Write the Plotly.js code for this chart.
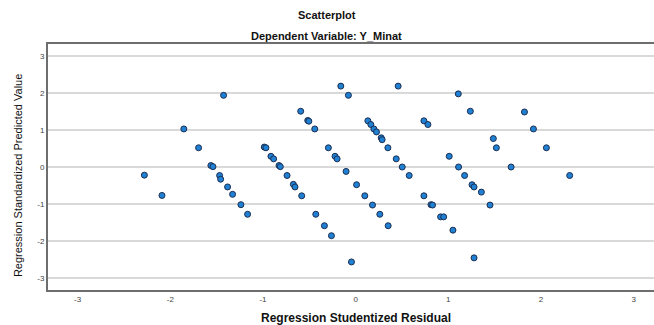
<!DOCTYPE html>
<html>
<head>
<meta charset="utf-8">
<script src="https://cdn.plot.ly/plotly-3.0.1.min.js"></script>
<style>html,body{margin:0;padding:0;background:#fff;}#chart{width:654px;height:325px;}</style>
</head>
<body>
<div id="chart"></div>
<script>
// Regression Studentized Residual (x) vs Regression Standardized Predicted Value (y)
const residual = [
  -2.28, -2.09, -1.854, -1.695, -1.562, -1.54, -1.468, -1.457, -1.382, -1.328,
  -1.238, -1.166, -1.425, -0.986, -0.968, -0.914, -0.885, -0.827, -0.813, -0.74,
  -0.672, -0.654, -0.582, -0.593, -0.517, -0.505, -0.441, -0.43, -0.337, -0.261,
  -0.294, -0.222, -0.2, -0.16, -0.078, -0.103, 0.01, 0.099, 0.182, 0.261,
  0.351, -0.045, 0.132, 0.164, 0.197, 0.225, 0.276, 0.286, 0.348, 0.438,
  0.503, 0.459, 0.578, 0.737, 0.813, 0.83, 0.917, 0.95, 0.737, 0.78,
  1.01, 1.05, 1.278, 1.111, 1.176, 1.256, 1.278, 1.357, 1.45, 1.678,
  2.31, 1.108, 1.238, 1.822, 1.919, 1.486, 1.519, 2.059
];
const predicted = [
  -0.22, -0.77, 1.03, 0.52, 0.04, 0.01, -0.23, -0.33, -0.54, -0.74,
  -1.02, -1.28, 1.94, 0.54, 0.52, 0.29, 0.22, 0.04, 0.01, -0.23,
  -0.47, -0.54, -0.78, 1.51, 1.26, 1.24, 1.03, -1.28, -1.59, -1.86,
  0.52, 0.29, 0.22, 2.19, 1.94, -0.12, -0.48, -0.78, -1.03, -1.28,
  -1.59, -2.57, 1.25, 1.15, 1.03, 0.95, 0.79, 0.74, 0.52, 0.22,
  0.0, 2.19, -0.23, -0.78, -1.02, -1.03, -1.35, -1.35, 1.25, 1.15,
  0.29, -1.71, -2.46, 0.0, -0.23, -0.48, -0.54, -0.68, -1.03, 0.0,
  -0.23, 1.98, 1.51, 1.49, 1.03, 0.77, 0.52, 0.52
];
const tickVals = [-3, -2, -1, 0, 1, 2, 3];
const tickText = ["-3", "-2", "-1", "0", "1", "2", "3"];

const trace = {
  type: 'scatter', mode: 'markers',
  x: residual, y: predicted,
  marker: {size: 6, color: '#1f80d4', line: {color: '#1c2e4f', width: 1}},
  hoverinfo: 'x+y'
};

const font = "'Liberation Sans', Arial, sans-serif";
const layout = {
  width: 654, height: 325,
  margin: {l: 48, r: 0, t: 44, b: 35},
  paper_bgcolor: '#fff', plot_bgcolor: '#fff',
  showlegend: false,
  font: {family: font, color: '#222'},
  xaxis: {
    range: [-3.32, 3.22], tickvals: tickVals, ticktext: tickText,
    showgrid: false, zeroline: false, showline: true, mirror: true,
    linecolor: '#6e6e6e', linewidth: 2, ticks: '',
    tickfont: {size: 8, color: '#444', family: font}
  },
  yaxis: {
    range: [-3.33, 3.33], tickvals: tickVals, ticktext: tickText,
    showgrid: true, gridcolor: '#d9d9d9', gridwidth: 1.5,
    zeroline: false, showline: true, mirror: false,
    linecolor: '#6e6e6e', linewidth: 2, ticks: '',
    tickfont: {size: 8, color: '#444', family: font}
  },
  annotations: [
    {text: '<b>Scatterplot</b>', xref: 'paper', yref: 'paper', x: 0.460, y: 1.118,
     showarrow: false, font: {size: 11, family: font, color: '#111'}, xanchor: 'center', yanchor: 'middle'},
    {text: '<b>Dependent Variable: Y_Minat</b>', xref: 'paper', yref: 'paper', x: 0.460, y: 1.0325,
     showarrow: false, font: {size: 11, family: font, color: '#111'}, xanchor: 'center', yanchor: 'middle'},
    {text: '<b>Regression Studentized Residual</b>', xref: 'paper', yref: 'paper', x: 0.508, y: -0.114,
     showarrow: false, font: {size: 12, family: font, color: '#111'}, xanchor: 'center', yanchor: 'middle'},
    {text: 'Regression Standardized Predicted Value', xref: 'paper', yref: 'paper', x: -0.0495, y: 0.463,
     textangle: -90, showarrow: false, font: {size: 11, family: "'Liberation Sans Narrow', 'Liberation Sans', Arial, sans-serif", color: '#111'},
     xanchor: 'center', yanchor: 'middle'}
  ]
};

Plotly.newPlot('chart', [trace], layout, {displayModeBar: false, staticPlot: true});
</script>
</body>
</html>
